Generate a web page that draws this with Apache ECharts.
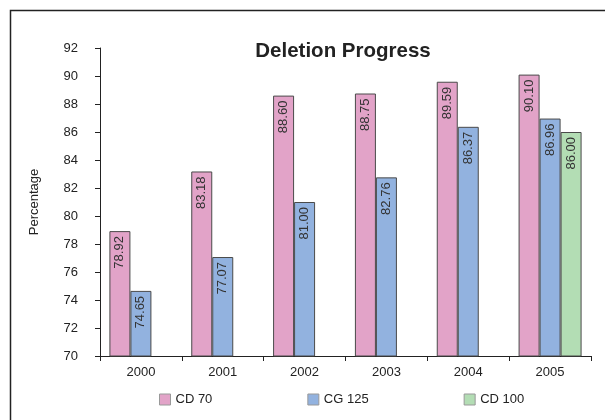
<!DOCTYPE html>
<html>
<head>
<meta charset="utf-8">
<script src="https://cdn.jsdelivr.net/npm/echarts@6/dist/echarts.min.js"></script>
<style>
  html, body { margin: 0; padding: 0; background: #fff; }
  #chart { width: 605px; height: 420px; }
</style>
</head>
<body>
<div id="chart"></div>
<script>
// Yearly deletion progress per configuration
const years = ['2000', '2001', '2002', '2003', '2004', '2005'];
const cd70 = [78.92, 83.18, 88.60, 88.75, 89.59, 90.10];
const cg125 = [74.65, 77.07, 81.00, 82.76, 86.37, 86.96];
const cd100 = [null, null, null, null, null, 86.00];
const yTicks = [70, 72, 74, 76, 78, 80, 82, 84, 86, 88, 90, 92];

const FONT = 'Liberation Sans, Arial, sans-serif';

function barSeries(name, data, color) {
  return {
    name: name,
    type: 'bar',
    data: data,
    barWidth: 21,
    barGap: '0%',
    itemStyle: { color: color, borderColor: '#4a4a4a', borderWidth: 1 },
    label: {
      show: true,
      position: 'insideTop',
      rotate: 90,
      align: 'right',
      verticalAlign: 'middle',
      distance: 5,
      fontFamily: FONT,
      fontSize: 13,
      color: '#333',
      formatter: p => p.value == null ? '' : Number(p.value).toFixed(2)
    }
  };
}

const chart = echarts.init(document.getElementById('chart'), null, { renderer: 'canvas' });
chart.setOption({
  animation: false,
  backgroundColor: '#fff',
  title: {
    text: 'Deletion Progress',
    left: 338, top: 36, textAlign: 'center',
    textStyle: { fontFamily: FONT, fontSize: 20.5, fontWeight: 'bold', color: '#222' }
  },
  graphic: [{
    type: 'rect',
    shape: { x: 10.5, y: 10.5, width: 620, height: 430 },
    style: { fill: 'none', stroke: '#222', lineWidth: 1.5 },
    silent: true
  }],
  legend: {
    top: 388, left: 154, itemGap: 95,
    itemWidth: 11, itemHeight: 11,
    icon: 'rect',
    itemStyle: { borderColor: '#999', borderWidth: 1 },
    textStyle: { fontFamily: FONT, fontSize: 13, color: '#222' },
    data: ['CD 70', 'CG 125', 'CD 100']
  },
  grid: { left: 100, right: 14, top: 48, bottom: 64 },
  xAxis: {
    type: 'category',
    data: years,
    axisLine: { lineStyle: { color: '#222', width: 1 } },
    axisTick: { show: true, length: 5, lineStyle: { color: '#222' } },
    axisLabel: { fontFamily: FONT, fontSize: 13, color: '#222', margin: 10 }
  },
  yAxis: {
    type: 'value',
    min: yTicks[0], max: yTicks[yTicks.length - 1], interval: 2,
    name: 'Percentage',
    nameLocation: 'middle',
    nameGap: 59,
    nameTextStyle: { fontFamily: FONT, fontSize: 13, color: '#222' },
    axisLine: { show: true, lineStyle: { color: '#222', width: 1 } },
    axisTick: { show: true, length: 5, lineStyle: { color: '#222' } },
    splitLine: { show: false },
    axisLabel: { fontFamily: FONT, fontSize: 13, color: '#222', margin: 22 }
  },
  series: [
    barSeries('CD 70', cd70, '#e2a3c8'),
    barSeries('CG 125', cg125, '#92b2df'),
    barSeries('CD 100', cd100, '#b3ddb4')
  ]
});
</script>
</body>
</html>
